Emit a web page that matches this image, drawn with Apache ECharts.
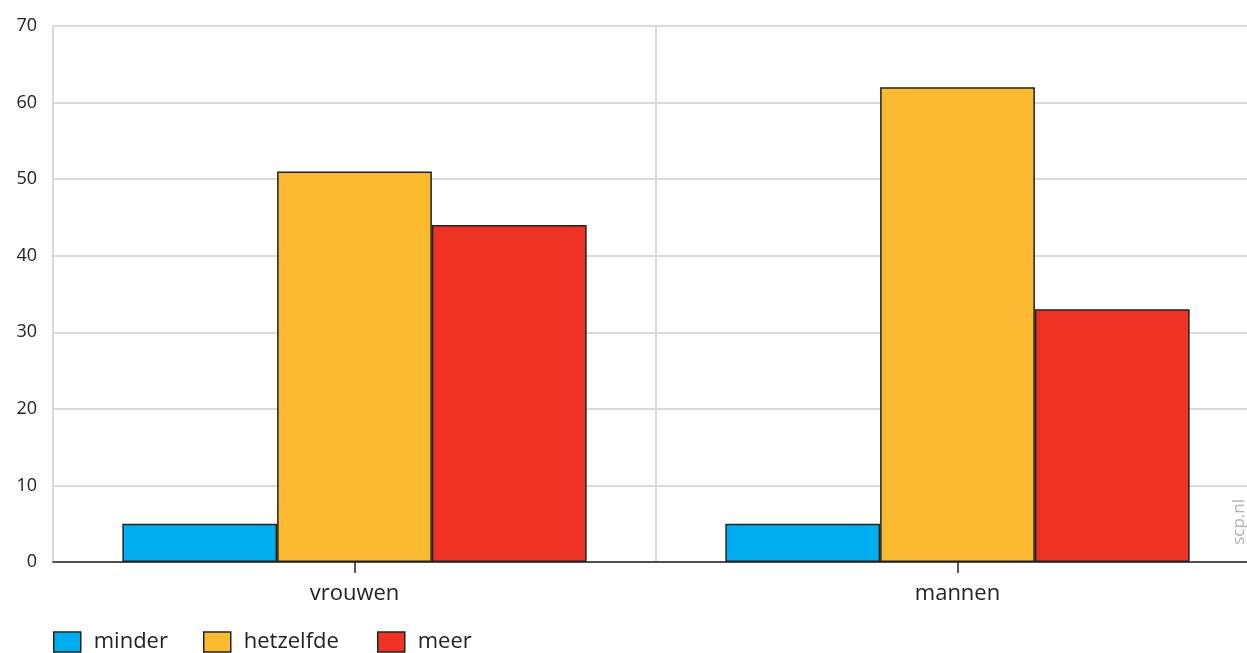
<!DOCTYPE html>
<html><head><meta charset="utf-8">
<script src="https://cdn.jsdelivr.net/npm/echarts@6/dist/echarts.min.js"></script>
<style>html,body{margin:0;padding:0;background:#fff}#c{width:1247px;height:653px}</style>
</head><body><div id="c"></div>
<script>
var categories = ['vrouwen', 'mannen'];
var seriesNames = ['minder', 'hetzelfde', 'meer'];
var minder = [5, 5];
var hetzelfde = [51, 62];
var meer = [44, 33];
var yTicks = [0, 10, 20, 30, 40, 50, 60, 70];
var colors = ['#00aeef', '#fbba30', '#ee3224'];
var legendLefts = [53, 203, 377];

var chart = echarts.init(document.getElementById('c'), null, {renderer: 'canvas'});
var font = '"Open Sans", "Noto Sans", sans-serif';
function mk(name, data, color) {
  return {
    name: name, type: 'bar', data: data, barGap: '0%', barCategoryGap: '23%',
    itemStyle: {color: color, borderColor: '#222', borderWidth: 1.5},
    emphasis: {disabled: true}
  };
}
var legends = seriesNames.map(function (n, i) {
  return {
    left: legendLefts[i], top: 631, padding: 0, itemWidth: 27, itemHeight: 20,
    icon: 'rect', selectedMode: false,
    itemStyle: {borderColor: '#222', borderWidth: 1.5},
    textStyle: {fontSize: 22, color: '#222', fontFamily: font, padding: [0, 0, 0, 8]},
    data: [n]
  };
});
chart.setOption({
  animation: false,
  color: colors,
  textStyle: {fontFamily: font},
  grid: {left: 53, right: -12, top: 26, bottom: 91, containLabel: false, outerBoundsMode: 'none'},
  legend: legends,
  xAxis: {
    type: 'category', data: categories,
    axisLine: {lineStyle: {color: '#222', width: 1.5}},
    axisTick: {show: true, alignWithLabel: true, length: 11, lineStyle: {color: '#222', width: 1.5}},
    axisLabel: {fontSize: 22, color: '#222', margin: 21, fontFamily: font},
    splitLine: {show: true, lineStyle: {color: '#d9d9d9', width: 2}}
  },
  yAxis: {
    type: 'value', min: yTicks[0], max: yTicks[yTicks.length - 1], interval: 10,
    axisLine: {show: false}, axisTick: {show: false},
    axisLabel: {fontSize: 18, color: '#222', margin: 16, fontFamily: font},
    splitLine: {lineStyle: {color: '#d9d9d9', width: 2}}
  },
  graphic: [{
    type: 'text', left: 1231, top: 499, rotation: Math.PI / 2,
    style: {text: 'scp.nl', fill: '#b0b0b0', fontSize: 17, fontFamily: font}
  }],
  series: [mk(seriesNames[0], minder, colors[0]), mk(seriesNames[1], hetzelfde, colors[1]), mk(seriesNames[2], meer, colors[2])]
});
</script></body></html>
